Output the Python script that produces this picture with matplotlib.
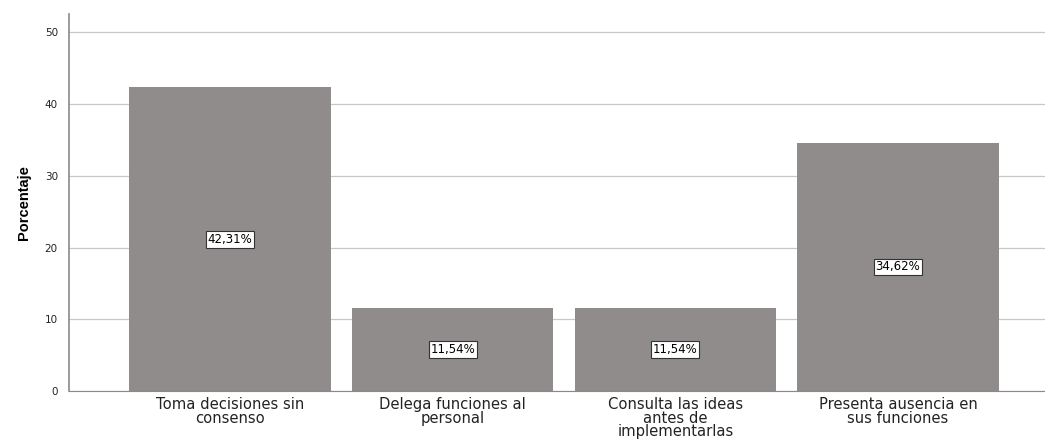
import matplotlib
matplotlib.use('Agg')
import matplotlib.pyplot as plt
import numpy as np

categorias = ["Toma decisiones sin\nconsenso",
              "Delega funciones al\npersonal",
              "Consulta las ideas\nantes de\nimplementarlas",
              "Presenta ausencia en\nsus funciones"]
porcentajes = [42.31, 11.54, 11.54, 34.62]
etiquetas = ["42,31%", "11,54%", "11,54%", "34,62%"]
yticks = [0, 10, 20, 30, 40, 50]

plt.rcParams['font.family'] = ['DejaVu Sans']

fig = plt.figure(figsize=(10.45, 4.42), dpi=100)
ax = fig.add_axes([0.066, 0.115, 0.934, 0.853])

x = np.arange(len(categorias))
ax.bar(x, porcentajes, width=0.903, color='#8f8c8b', zorder=2)

for xi, v, lab in zip(x, porcentajes, etiquetas):
    ax.text(xi, v / 2, lab, ha='center', va='center', fontsize=8.5, color='black', zorder=3,
            bbox=dict(boxstyle='square,pad=0.15', facecolor='white', edgecolor='#333333', linewidth=0.8))

ax.set_xlim(-0.723, 3.66)
ax.set_ylim(0, 52.5)
ax.set_yticks(yticks)
ax.set_yticklabels([str(t) for t in yticks], fontsize=7.5, color='#222222')
ax.set_xticks(x)
ax.set_xticklabels(categorias, fontsize=10.6, color='#222222', linespacing=0.9)
ax.tick_params(axis='both', length=0, pad=8)
ax.tick_params(axis='x', pad=4)
ax.yaxis.grid(True, color='#c8c8c8', linewidth=0.9, zorder=0)
ax.set_axisbelow(True)

for s in ['top', 'right']:
    ax.spines[s].set_visible(False)
ax.spines['left'].set_color('#8a8a8a')
ax.spines['bottom'].set_color('#8a8a8a')
ax.spines['left'].set_linewidth(1.2)

ax.set_ylabel('Porcentaje', fontsize=10.5, fontweight='bold',
              family=['Liberation Sans Narrow', 'Liberation Sans', 'DejaVu Sans'], labelpad=10)

fig.savefig('out.png', dpi=100)
